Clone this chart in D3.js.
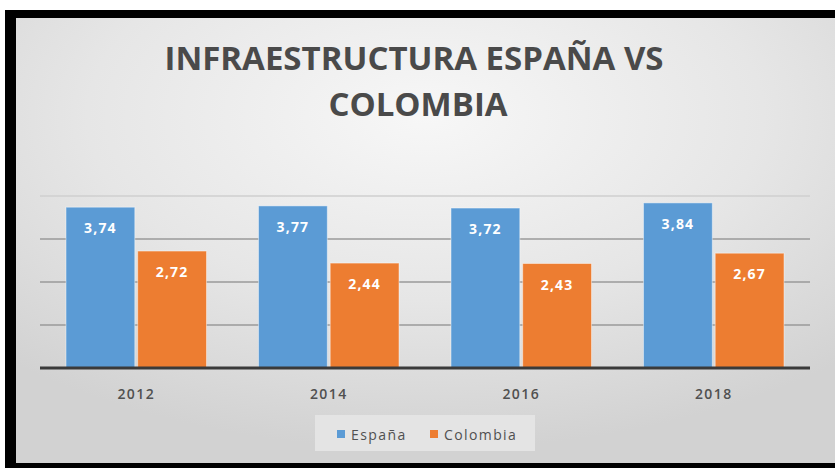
<!DOCTYPE html>
<html>
<head>
<meta charset="utf-8">
<script src="https://cdn.jsdelivr.net/npm/d3@7/dist/d3.min.js"></script>
<style>
  html, body { margin: 0; padding: 0; background: #ffffff; }
  svg { display: block; }
</style>
</head>
<body>
<svg id="chart" width="835" height="468"></svg>
<script>
// Infrastructure index, Spain vs Colombia
const categories = ["2012", "2014", "2016", "2018"];
const seriesNames = ["España", "Colombia"];
const espana = [3.74, 3.77, 3.72, 3.84];
const colombia = [2.72, 2.44, 2.43, 2.67];
const gridTicks = [1, 2, 3, 4];
const titleLines = ["INFRAESTRUCTURA ESPAÑA VS", "COLOMBIA"];

const colors = { "España": "#5b9bd5", "Colombia": "#ed7d31" };
const seriesValues = { "España": espana, "Colombia": colombia };

const svg = d3.select("#chart");
const W = 835, H = 468;
const FONT = "'Open Sans', sans-serif";

// Background gradient
const defs = svg.append("defs");
const bg = defs.append("radialGradient")
  .attr("id", "bg").attr("cx", "50%").attr("cy", "22%").attr("r", "75%");
bg.append("stop").attr("offset", "0%").attr("stop-color", "#f7f7f7");
bg.append("stop").attr("offset", "55%").attr("stop-color", "#e6e6e6");
bg.append("stop").attr("offset", "100%").attr("stop-color", "#d2d2d2");

// Frame
svg.append("rect").attr("x", 5).attr("y", 10).attr("width", W - 5).attr("height", H - 10).attr("fill", "#000");
svg.append("rect").attr("x", 16).attr("y", 18).attr("width", W - 16).attr("height", 445).attr("fill", "url(#bg)");

// Title
const title = svg.append("text")
  .attr("text-anchor", "middle")
  .attr("font-family", FONT)
  .attr("font-weight", 700)
  .attr("font-size", 33)
  .attr("fill", "#4a4a4a");
const titleX = [414, 418], titleY = [70, 116];
titleLines.forEach((t, i) => {
  title.append("tspan").attr("x", titleX[i]).attr("y", titleY[i]).text(t);
});

// Scales
const plot = { left: 40, right: 810, top: 196, bottom: 368 };
const x0 = d3.scaleBand().domain(categories).range([plot.left, plot.right])
  .paddingInner(0.27).paddingOuter(0.135);
const x1 = d3.scaleBand().domain(seriesNames).range([0, x0.bandwidth()]).paddingInner(0.04);
const y = d3.scaleLinear().domain([0, 4]).range([plot.bottom, plot.top]);

// Gridlines
svg.append("g").selectAll("line").data(gridTicks).join("line")
  .attr("x1", plot.left).attr("x2", plot.right)
  .attr("y1", d => y(d)).attr("y2", d => y(d))
  .attr("stroke", d => d === 4 ? "#cfcfcf" : "#9a9a9a")
  .attr("stroke-width", 1.3);

// Bars
const rows = categories.map((c, i) => ({
  cat: c,
  vals: seriesNames.map(s => ({ s, v: seriesValues[s][i] }))
}));
const groups = svg.append("g").selectAll("g").data(rows).join("g")
  .attr("transform", d => `translate(${x0(d.cat)},0)`);
groups.selectAll("rect").data(d => d.vals).join("rect")
  .attr("x", d => x1(d.s))
  .attr("y", d => y(d.v))
  .attr("width", x1.bandwidth())
  .attr("height", d => y(0) - y(d.v))
  .attr("fill", d => colors[d.s])
  .attr("stroke", "rgba(255,255,255,0.45)")
  .attr("stroke-width", 1);
groups.selectAll("text").data(d => d.vals).join("text")
  .attr("x", d => x1(d.s) + x1.bandwidth() / 2)
  .attr("y", d => y(d.v) + 26)
  .attr("text-anchor", "middle")
  .attr("font-family", FONT)
  .attr("font-weight", 700)
  .attr("font-size", 14)
  .attr("letter-spacing", 1.2)
  .attr("fill", "#ffffff")
  .text(d => d3.format(".2f")(d.v).replace(".", ","));

// Baseline
svg.append("line")
  .attr("x1", plot.left).attr("x2", plot.right)
  .attr("y1", y(0)).attr("y2", y(0))
  .attr("stroke", "#3a3a3a").attr("stroke-width", 3);

// Category axis
const xAxis = svg.append("g").attr("transform", `translate(0,${y(0)})`)
  .call(d3.axisBottom(x0).tickSize(0).tickPadding(21));
xAxis.select(".domain").remove();
xAxis.selectAll("text")
  .attr("font-family", FONT)
  .attr("font-size", 14)
  .attr("font-weight", 600)
  .attr("letter-spacing", 1.4)
  .attr("fill", "#505050");

// Legend
const legend = svg.append("g");
legend.append("rect").attr("x", 315).attr("y", 415).attr("width", 220).attr("height", 36)
  .attr("fill", "#e4e4e4");
const legendX = [337, 430];
seriesNames.forEach((s, i) => {
  legend.append("rect").attr("x", legendX[i]).attr("y", 430).attr("width", 8).attr("height", 8)
    .attr("fill", colors[s]);
  legend.append("text").attr("x", legendX[i] + 14).attr("y", 440)
    .attr("font-family", FONT)
    .attr("font-size", 14)
    .attr("letter-spacing", 1.4)
    .attr("fill", "#505050")
    .text(s);
});
</script>
</body>
</html>
